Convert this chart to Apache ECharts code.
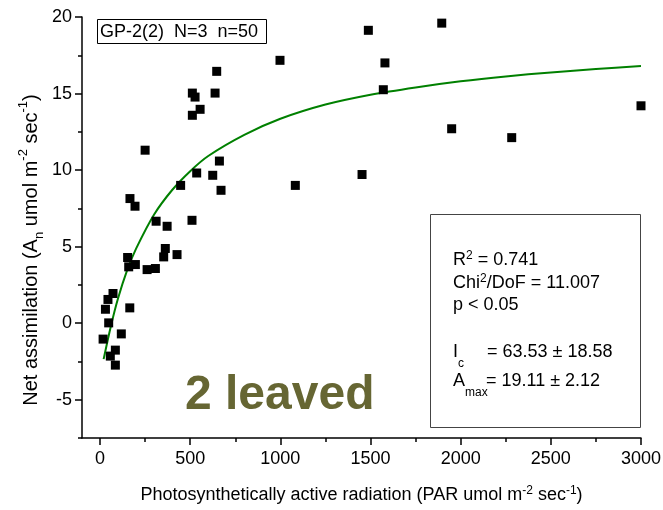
<!DOCTYPE html>
<html>
<head>
<meta charset="utf-8">
<script src="https://cdn.jsdelivr.net/npm/echarts@6/dist/echarts.min.js"></script>
<style>
  html, body { margin: 0; padding: 0; background: #fff; }
  #main { width: 663px; height: 510px; }
</style>
</head>
<body>
<div id="main"></div>
<script>
// measured points: PAR vs net assimilation
var parX = [17, 30, 44, 48, 57, 72, 85, 85, 118, 153, 159, 165, 166, 194, 196, 250, 261, 307, 311, 353,
            362, 372, 427, 447, 510, 512, 527, 512, 555, 536, 625, 638, 647, 662, 671, 998, 1083, 1453,
            1488, 1571, 1580, 1895, 1950, 2283, 3000];
var anY = [-1.04, 0.91, 1.55, 0.02, -2.15, 1.94, -1.76, -2.74, -0.70, 4.29, 3.68, 1.0, 8.14, 7.64, 3.83,
           11.3, 3.5, 3.57, 6.66, 4.33, 4.88, 6.33, 4.48, 9.0, 6.72, 15.03, 14.77, 13.58, 13.97, 9.81,
           9.66, 15.03, 16.45, 10.59, 8.68, 17.17, 9.0, 9.71, 19.13, 15.25, 17.0, 19.6, 12.7, 12.12, 14.2];

// fitted curve
var fitX = [20, 60, 100, 150, 200, 300, 400, 500, 600, 800, 1000, 1250, 1500, 1750, 2000, 2250, 2500, 2750, 3000];
var fitY = [-2.35, -0.2, 1.63, 3.45, 4.87, 7.1, 8.7, 9.93, 10.92, 12.3, 13.35, 14.28, 14.92, 15.4, 15.8,
            16.12, 16.38, 16.6, 16.8];

var xTicks = [0, 500, 1000, 1500, 2000, 2500, 3000];
var xMinor = [250, 750, 1250, 1750, 2250, 2750];
var yTicks = [-5, 0, 5, 10, 15, 20];
var yMinor = [-7.5, -2.5, 2.5, 7.5, 12.5, 17.5];

var font = '"Liberation Sans", Arial, sans-serif';

function pairs(xs, ys) {
    var result = [];
    for (var i = 0; i < xs.length; i++) {
        result.push([xs[i], ys[i]]);
    }
    return result;
}

var supStyle = { fontSize: 12, fontFamily: font, color: '#000', verticalAlign: 'top', padding: [0, 0, 8, 0] };
var subStyle = { fontSize: 12, fontFamily: font, color: '#000', verticalAlign: 'top', padding: [24, 0, 0, 0] };
var richText = { sup: supStyle, sub: subStyle };

// an axis that only draws tick marks at the given values
function tickAxis(min, max, pos, values, len) {
    return {
        type: 'value', min: min, max: max, position: pos,
        axisLine: { show: false, onZero: false },
        axisTick: { show: true, length: len, customValues: values, lineStyle: { color: '#000', width: 1.5 } },
        axisLabel: { show: false },
        splitLine: { show: false }
    };
}

var option = {
    animation: false,
    backgroundColor: '#fff',
    grid: { left: 82, right: 22, top: 17, bottom: 72, containLabel: false, outerBoundsMode: 'none' },
    xAxis: [
        {
            type: 'value', min: -100, max: 3000, position: 'bottom',
            axisLine: { show: true, onZero: false, lineStyle: { color: '#000', width: 1.5 } },
            axisTick: { show: false },
            axisLabel: {
                customValues: xTicks, fontSize: 18, fontFamily: font, color: '#000', margin: 12,
                formatter: function (v) { return String(v); }
            },
            splitLine: { show: false },
            name: 'Photosynthetically active radiation (PAR umol m{sup|-2} sec{sup|-1})',
            nameLocation: 'middle',
            nameGap: 47,
            nameTextStyle: { fontSize: 18, fontFamily: font, color: '#000', rich: richText }
        },
        tickAxis(-100, 3000, 'bottom', xTicks, 7),
        tickAxis(-100, 3000, 'bottom', xMinor, 4)
    ],
    yAxis: [
        {
            type: 'value', min: -7.5, max: 20, position: 'left',
            axisLine: { show: true, onZero: false, lineStyle: { color: '#000', width: 1.5 } },
            axisTick: { show: false },
            axisLabel: {
                customValues: yTicks, fontSize: 18, fontFamily: font, color: '#000', margin: 10,
                formatter: function (v) { return String(v); }
            },
            splitLine: { show: false }
        },
        tickAxis(-7.5, 20, 'left', yTicks, 7),
        tickAxis(-7.5, 20, 'left', yMinor, 4)
    ],
    series: [
        {
            type: 'line',
            data: pairs(fitX, fitY),
            smooth: 0.3,
            showSymbol: false,
            lineStyle: { color: '#008000', width: 2 },
            z: 2
        },
        {
            type: 'scatter',
            data: pairs(parX, anY),
            symbol: 'rect',
            symbolSize: 9,
            itemStyle: { color: '#000', opacity: 1 },
            z: 3
        }
    ],
    graphic: [
        {
            type: 'text', x: 31, y: 250, rotation: Math.PI / 2,
            style: {
                text: 'Net assimilation (A{sub|n} umol m{sup|-2} sec{sup|-1})',
                fontSize: 20, fontFamily: font, fill: '#000', align: 'center', verticalAlign: 'middle',
                rich: {
                    sup: { fontSize: 13, fontFamily: font, color: '#000', verticalAlign: 'top', padding: [0, 0, 8, 0] },
                    sub: { fontSize: 13, fontFamily: font, color: '#000', verticalAlign: 'top', padding: [16, 0, 0, 0] }
                }
            }
        },
        {
            type: 'rect', shape: { x: 97.5, y: 19.5, width: 169, height: 24 },
            style: { fill: '#fff', stroke: '#000', lineWidth: 1 }
        },
        {
            type: 'text', x: 100, y: 32,
            style: { text: 'GP-2(2)  N=3  n=50', fontSize: 18, fontFamily: font, fill: '#000', verticalAlign: 'middle' }
        },
        {
            type: 'rect', shape: { x: 430.5, y: 214.5, width: 210, height: 213 },
            style: { fill: '#fff', stroke: '#444', lineWidth: 1 }
        },
        {
            type: 'text', x: 453, y: 260,
            style: { text: 'R{sup|2} = 0.741', fontSize: 18, fontFamily: font, fill: '#000', verticalAlign: 'middle', rich: richText }
        },
        {
            type: 'text', x: 453, y: 283,
            style: { text: 'Chi{sup|2}/DoF = 11.007', fontSize: 18, fontFamily: font, fill: '#000', verticalAlign: 'middle', rich: richText }
        },
        {
            type: 'text', x: 453, y: 305,
            style: { text: 'p < 0.05', fontSize: 18, fontFamily: font, fill: '#000', verticalAlign: 'middle' }
        },
        {
            type: 'text', x: 453, y: 352,
            style: { text: 'I{sub|c}', fontSize: 18, fontFamily: font, fill: '#000', verticalAlign: 'middle', rich: richText }
        },
        {
            type: 'text', x: 487, y: 352,
            style: { text: '= 63.53 ± 18.58', fontSize: 18, fontFamily: font, fill: '#000', verticalAlign: 'middle' }
        },
        {
            type: 'text', x: 453, y: 381,
            style: { text: 'A{sub|max}', fontSize: 18, fontFamily: font, fill: '#000', verticalAlign: 'middle', rich: richText }
        },
        {
            type: 'text', x: 486, y: 381,
            style: { text: '= 19.11 ± 2.12', fontSize: 18, fontFamily: font, fill: '#000', verticalAlign: 'middle' }
        },
        {
            type: 'text', x: 185, y: 396,
            style: { text: '2 leaved', fontSize: 48, fontWeight: 'bold', fontFamily: font, fill: '#666633', verticalAlign: 'middle' }
        }
    ]
};

var chart = echarts.init(document.getElementById('main'), null, { renderer: 'canvas' });
chart.setOption(option);
</script>
</body>
</html>
